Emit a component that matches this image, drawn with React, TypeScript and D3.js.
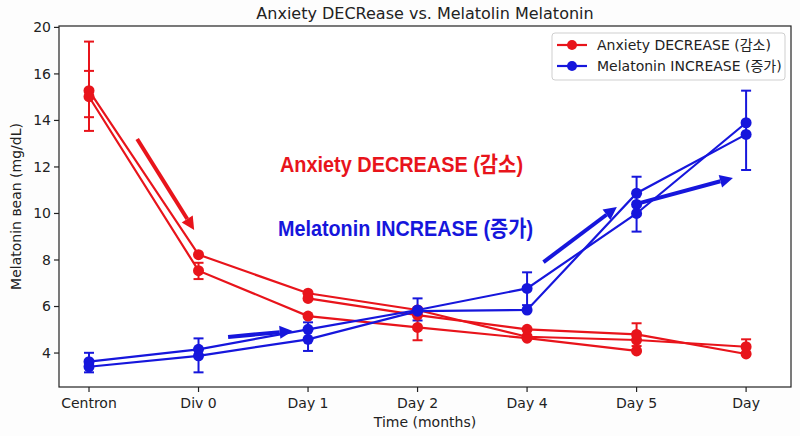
import React from "react";
import * as d3 from "d3";

const categories = ["Centron", "Div 0", "Day 1", "Day 2", "Day 4", "Day 5", "Day"];
const anxietyA: (number | null)[] = [15.28, 8.23, 6.57, 5.85, 4.70, 4.56, 4.27];
const anxietyB: (number | null)[] = [15.02, 7.54, 5.59, 5.10, 4.64, 4.09, null];
const anxietyC: (number | null)[] = [null, null, 6.35, 5.63, 5.02, 4.80, 3.96];
const melatoninA: (number | null)[] = [3.63, 4.16, 5.02, 5.85, 6.78, 10.0, 13.9];
const melatoninB: (number | null)[] = [3.41, 3.88, 4.59, 5.80, 5.85, 10.87, 13.4];
const melatoninExtra: (number | null)[] = [null, null, null, null, null, 10.39, null];

// error bars: [category index, low, high]
const anxietyErr: [number, number, number][] = [
  [0, 13.55, 17.39],
  [0, 14.14, 16.13],
  [1, 7.18, 7.88],
  [3, 4.55, 5.95],
  [5, 4.3, 5.28],
  [6, 3.95, 4.59],
];
const melatoninErr: [number, number, number][] = [
  [0, 3.17, 4.01],
  [1, 3.17, 4.63],
  [2, 4.09, 5.32],
  [3, 5.4, 6.35],
  [4, 6.06, 7.47],
  [5, 9.22, 11.58],
  [6, 11.87, 15.28],
];

const yTickValues = [4, 6, 8, 10, 12, 14, 16, 18];
const yTickLabels = ["4", "6", "8", "10", "12", "14", "16", "20"];

// annotation arrows in data units: [x0, y0, x1, y1]
const redArrows: [number, number, number, number][] = [[0.44, 13.2, 0.96, 9.29]];
const blueArrows: [number, number, number, number][] = [
  [1.27, 4.69, 1.86, 4.95],
  [4.15, 7.91, 4.82, 10.28],
  [5.0, 10.41, 5.88, 11.53],
];

const titleText = "Anxiety DECRease vs. Melatolin Melatonin";
const xLabel = "Time (months)";
const yLabel = "Melatonin ʙean (mg/dL)";
const legendLabels = ["Anxiety DECREASE (감소)", "Melatonin INCREASE (증가)"];
const noteRed = "Anxiety DECREASE (감소)";
const noteBlue = "Melatonin INCREASE (증가)";

const RED = "#e8141b";
const BLUE = "#1616dc";
const FONT = "'DejaVu Sans', 'Noto Sans CJK KR', sans-serif";
const BOLD = "'Liberation Sans', Arial, 'Noto Sans CJK KR', sans-serif";

export default function App() {
  const W = 800, H = 436;
  const left = 59, right = 791, top = 26, bottom = 387;
  const x = d3.scaleLinear().domain([-0.274, 6.41]).range([left, right]);
  const y = d3.scaleLinear().domain([2.54, 18.06]).range([bottom, top]);

  const line = d3
    .line<number | null>()
    .defined((d) => d !== null)
    .x((_, i) => x(i))
    .y((d) => y(d as number));

  const drawSeries = (data: (number | null)[], color: string, key: string) => (
    <g key={key}>
      <path d={line(data) || ""} fill="none" stroke={color} strokeWidth={2.2} />
      {data.map((d, i) =>
        d === null ? null : <circle key={i} cx={x(i)} cy={y(d)} r={5.5} fill={color} />
      )}
    </g>
  );

  const drawErr = (errs: [number, number, number][], color: string, key: string) => (
    <g key={key} stroke={color} strokeWidth={2}>
      {errs.map(([i, lo, hi], k) => (
        <g key={k}>
          <line x1={x(i)} x2={x(i)} y1={y(lo)} y2={y(hi)} />
          <line x1={x(i) - 5} x2={x(i) + 5} y1={y(lo)} y2={y(lo)} />
          <line x1={x(i) - 5} x2={x(i) + 5} y1={y(hi)} y2={y(hi)} />
        </g>
      ))}
    </g>
  );

  const drawArrow = (a: [number, number, number, number], color: string, k: number) => {
    const x0 = x(a[0]), y0 = y(a[1]), x1 = x(a[2]), y1 = y(a[3]);
    const ang = Math.atan2(y1 - y0, x1 - x0);
    const hl = 13, hw = 6.5;
    const bx = x1 - hl * Math.cos(ang), by = y1 - hl * Math.sin(ang);
    const px = -Math.sin(ang) * hw, py = Math.cos(ang) * hw;
    return (
      <g key={k}>
        <line x1={x0} y1={y0} x2={bx} y2={by} stroke={color} strokeWidth={4} />
        <polygon points={`${x1},${y1} ${bx + px},${by + py} ${bx - px},${by - py}`} fill={color} />
      </g>
    );
  };

  return (
    <svg
      width={W}
      height={H}
      style={{ position: "absolute", left: 0, top: 0, background: "#fdfdfd" }}
      fontFamily={FONT}
    >
      <rect x={0} y={0} width={W} height={H} fill="#fdfdfd" />
      <rect x={left} y={top} width={right - left} height={bottom - top} fill="#ffffff" />

      {/* annotations */}
      {redArrows.map((a, k) => drawArrow(a, RED, k))}
      {blueArrows.map((a, k) => drawArrow(a, BLUE, k + 10))}

      {drawErr(anxietyErr, RED, "ae")}
      {drawErr(melatoninErr, BLUE, "me")}
      {drawSeries(anxietyA, RED, "a1")}
      {drawSeries(anxietyB, RED, "a2")}
      {drawSeries(anxietyC, RED, "a3")}
      {drawSeries(melatoninA, BLUE, "m1")}
      {drawSeries(melatoninB, BLUE, "m2")}
      {drawSeries(melatoninExtra, BLUE, "m3")}

      <text x={280} y={172} fill={RED} fontFamily={BOLD} fontWeight="bold" fontSize={22}
        textLength={243} lengthAdjust="spacingAndGlyphs">{noteRed}</text>
      <text x={278} y={236} fill={BLUE} fontFamily={BOLD} fontWeight="bold" fontSize={22}
        textLength={255} lengthAdjust="spacingAndGlyphs">{noteBlue}</text>

      {/* frame */}
      <rect x={left} y={top} width={right - left} height={bottom - top} fill="none" stroke="#222" strokeWidth={1.2} />

      {/* y axis */}
      {yTickValues.map((v, i) => (
        <g key={v}>
          <line x1={left - 5} x2={left} y1={y(v)} y2={y(v)} stroke="#222" strokeWidth={1.2} />
          <text x={left - 8} y={y(v)} dy="0.35em" textAnchor="end" fontSize={14} fill="#222">
            {yTickLabels[i]}
          </text>
        </g>
      ))}
      {/* x axis */}
      {categories.map((c, i) => (
        <g key={c}>
          <line x1={x(i)} x2={x(i)} y1={bottom} y2={bottom + 5} stroke="#222" strokeWidth={1.2} />
          <text x={x(i)} y={bottom + 21} textAnchor="middle" fontSize={14} fill="#222">{c}</text>
        </g>
      ))}

      <text x={(left + right) / 2} y={427} textAnchor="middle" fontSize={14} fill="#222">{xLabel}</text>
      <text transform={`translate(21,${(top + bottom) / 2}) rotate(-90)`} textAnchor="middle" fontSize={14} fill="#222">
        {yLabel}
      </text>
      <text x={(left + right) / 2} y={19} textAnchor="middle" fontSize={16} fill="#222">{titleText}</text>

      {/* legend */}
      <g>
        <rect x={552} y={33} width={233} height={47} rx={3} fill="#fff" stroke="#cfcfcf" strokeWidth={1} />
        {legendLabels.map((l, i) => {
          const ly = 45 + i * 21;
          const c = i === 0 ? RED : BLUE;
          return (
            <g key={l}>
              <line x1={557} x2={587} y1={ly} y2={ly} stroke={c} strokeWidth={2.2} />
              <circle cx={572} cy={ly} r={5} fill={c} />
              <text x={597} y={ly} dy="0.36em" fontSize={14} fill="#222">{l}</text>
            </g>
          );
        })}
      </g>
    </svg>
  );
}
